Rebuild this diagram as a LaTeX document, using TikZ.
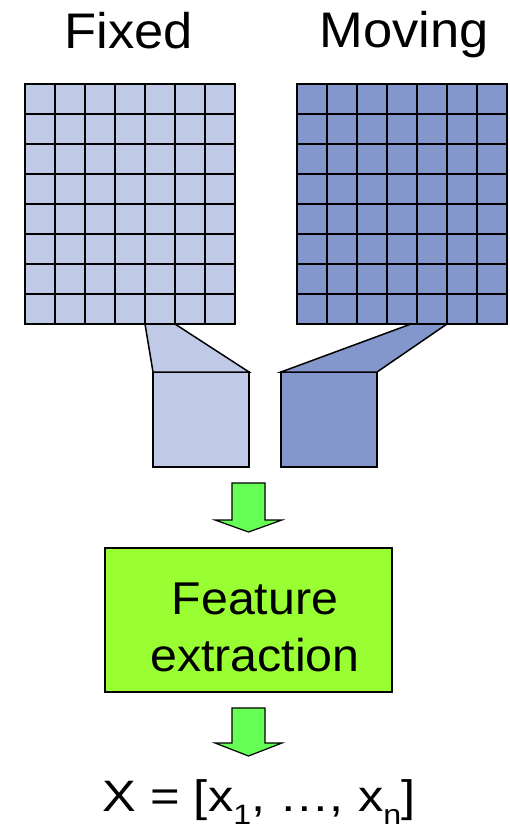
\documentclass[tikz,border=0pt]{standalone}
\usepackage{fontspec}
\setmainfont{Liberation Sans}
\usepackage{graphicx}
\definecolor{lightblue}{RGB}{192,202,230}
\definecolor{darkblue}{RGB}{132,151,204}
\definecolor{arrowgreen}{RGB}{102,255,85}
\definecolor{boxgreen}{RGB}{153,255,51}
\newcommand\lowsub[1]{\raisebox{-13pt}{\fontsize{28}{28}\selectfont #1}}
\tikzset{
  outl/.style={draw=black, line width=1.5pt, line join=miter},
  gridbox/.style={outl, rectangle, inner sep=0pt, outer sep=0pt, minimum width=210pt, minimum height=240pt},
  gridline/.style={draw=black, line width=1.4pt},
  patchbox/.style={outl, rectangle, inner sep=0pt, outer sep=0pt, minimum width=96pt, minimum height=95pt},
  fatarrow/.style={draw=black, line width=1.2pt, fill=arrowgreen, line join=miter},
  featbox/.style={outl, fill=boxgreen, rectangle, inner sep=0pt, outer sep=0pt, minimum width=287pt, minimum height=144pt},
  titletext/.style={font=\fontsize{50}{60}\selectfont, anchor=base, inner sep=0pt},
}
\begin{document}
\begin{tikzpicture}[x=1pt,y=-1pt]
\useasboundingbox (0,0) rectangle (510,830);
% grids
\node[gridbox, fill=lightblue] (fixedgrid) at (130,204) {};
\node[gridbox, fill=darkblue] (movinggrid) at (402,204) {};
\foreach \g in {fixedgrid,movinggrid}{
  \foreach \i in {1,...,6}
    \draw[gridline] ([xshift=\i*30pt]\g.north west) -- ([xshift=\i*30pt]\g.south west);
  \foreach \j in {1,...,7}
    \draw[gridline] ([yshift=-\j*30pt]\g.north west) -- ([yshift=-\j*30pt]\g.north east);
}
% titles
\node[titletext] (tfixed) at (129,48) {\scalebox{1.05}[1]{Fixed}};
\node[titletext] (tmoving) at (404,47.5) {\scalebox{1.05}[1]{Moving}};
% patches
\node[patchbox, fill=lightblue] (fixedpatch) at (201,419.5) {};
\node[patchbox, fill=darkblue] (movingpatch) at (329,419.5) {};
\filldraw[outl, fill=lightblue] ([xshift=120pt]fixedgrid.south west) -- (fixedpatch.north west) -- (fixedpatch.north east) -- ([xshift=150pt]fixedgrid.south west) -- cycle;
\filldraw[outl, fill=darkblue] ([xshift=114pt]movinggrid.south west) -- (movingpatch.north west) -- (movingpatch.north east) -- ([xshift=150pt]movinggrid.south west) -- cycle;
% arrow 1
\draw[fatarrow] (232,483) -- (265,483) -- (265,520) -- (282,520) -- (248.5,532) -- (215,520) -- (232,520) -- cycle;
% feature box
\node[featbox] (feat) at (248.5,620) {};
\node[font=\fontsize{46}{57}\selectfont, align=center, inner sep=0pt] (feattext) at ([xshift=6.5pt,yshift=-7pt]feat.center) {\scalebox{1.05}[1]{Feature}\\\scalebox{1.05}[1]{extraction}};
% arrow 2
\draw[fatarrow] (232,708) -- (265,708) -- (265,743) -- (282,743) -- (248.5,756) -- (215,743) -- (232,743) -- cycle;
% result
\node[anchor=base, inner sep=0pt, font=\fontsize{44}{50}\selectfont] (xvec) at (259,811.7) {\scalebox{1.15}[1]{X = [x\lowsub{1}, …, x\lowsub{n}]}};
\end{tikzpicture}
\end{document}
